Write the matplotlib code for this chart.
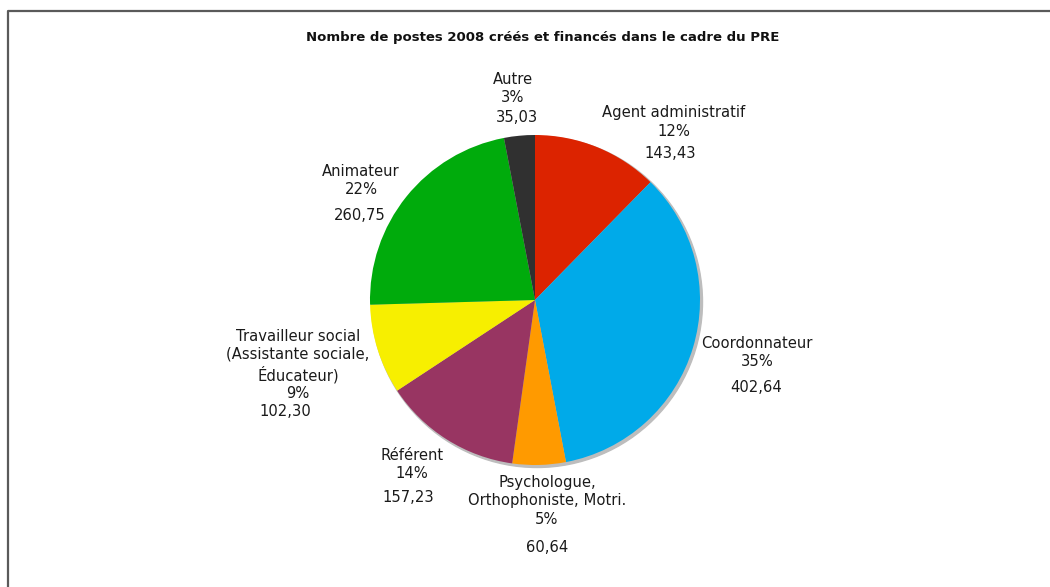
import matplotlib

matplotlib.use("Agg")
import matplotlib.pyplot as plt
from matplotlib.patches import Circle

W, H = 1050, 587

# data
categories = [
    "Agent administratif",
    "Coordonnateur",
    "Psychologue,\nOrthophoniste, Motri.",
    "Référent",
    "Travailleur social\n(Assistante sociale,\nÉducateur)",
    "Animateur",
    "Autre",
]
values = [143.43, 402.64, 60.64, 157.23, 102.30, 260.75, 35.03]
colors = ["#dc2300", "#00aae9", "#ff9a00", "#983562", "#f7ef00", "#00ab0c", "#303030"]

title = "Nombre de postes 2008 créés et financés dans le cadre du PRE"

# label layout, pixel positions measured from the top-left corner
name_pos = [(674, 122), (757, 353), (547, 501), (412, 465), (298, 365), (361, 180), (513, 89)]
value_pos = [(670, 154), (756, 388), (547, 548), (408, 497), (285, 411), (360, 216), (517, 118)]

center = (535, H - 300)
radius = 165

fig = plt.figure(figsize=(W / 100, H / 100), dpi=100)
ax = fig.add_axes([0, 0, 1, 1])

# soft shadow rim under the pie
ax.add_patch(Circle((center[0] + 2, center[1] - 2), radius + 0.5, color="#bdbdbd", zorder=0))

ax.pie(values, colors=colors, startangle=90, counterclock=False,
       center=center, radius=radius, wedgeprops={"linewidth": 0}, frame=True)
ax.set_xlim(0, W)
ax.set_ylim(0, H)
ax.set_aspect("equal")
ax.axis("off")

total = sum(values)
for name, v, (nx, ny), (vx, vy) in zip(categories, values, name_pos, value_pos):
    pct = round(v / total * 100)
    ax.text(nx, H - ny, f"{name}\n{pct}%", ha="center", va="center",
            fontsize=10.6, color="#1a1a1a", linespacing=1.25)
    ax.text(vx, H - vy, f"{v:.2f}".replace(".", ","), ha="center", va="center",
            fontsize=10.6, color="#1a1a1a")

ax.text(543, H - 37, title, ha="center", va="center", fontsize=9.5, fontweight="bold",
        color="#111111")

# frame lines (top and left only are visible)
ax.plot([8, 8, W], [0, H - 11, H - 11], color="#5a5a5a", linewidth=1.6, clip_on=False)

fig.savefig("out.png", dpi=100)
